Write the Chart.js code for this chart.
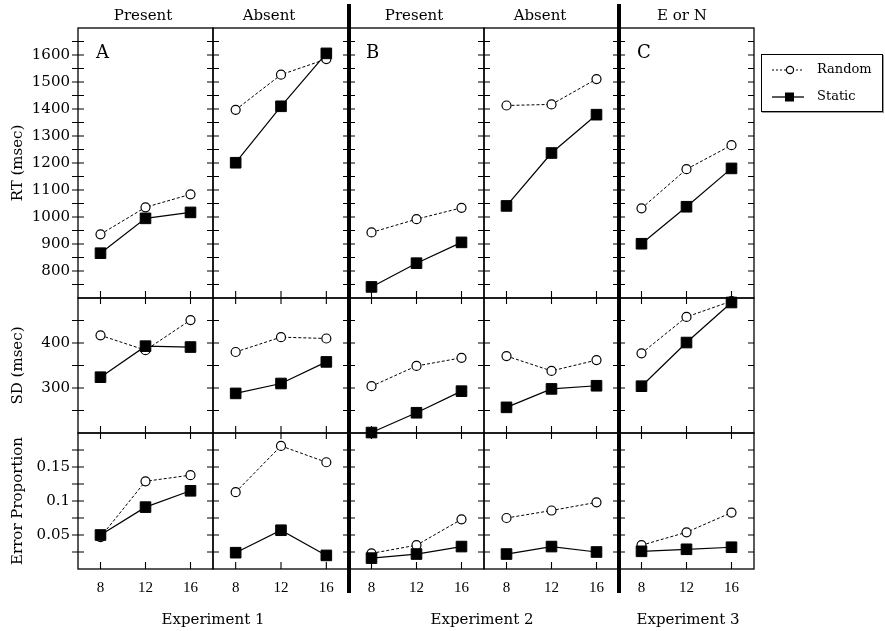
<!DOCTYPE html>
<html>
<head>
<meta charset="utf-8">
<script src="https://cdn.jsdelivr.net/npm/chart.js@4.4.1/dist/chart.umd.min.js"></script>
<style>
  body { margin: 0; background: #fff; }
  #page { position: relative; width: 885px; height: 631px; overflow: hidden; font-family: "DejaVu Serif", serif; color: #000; }
  #page canvas { position: absolute; }
  .txt { position: absolute; font-size: 15px; line-height: 18px; white-space: nowrap; transform: translateX(-50%); }
  .letter { position: absolute; font-size: 18px; line-height: 18px; }
  .thick { position: absolute; width: 3.5px; background: #000; top: 4px; height: 589px; z-index: 5; }
  #legend { position: absolute; left: 761px; top: 54px; width: 120px; height: 56px; border: 1.5px solid #000; box-shadow: 1px 1px 0 #999; font-size: 13px; background: #fff; }
  #legend .row { position: absolute; left: 0; height: 16px; }
  #legend svg { position: absolute; left: 8px; top: 0; }
  #legend span { position: absolute; left: 55px; top: -1px; }
</style>
</head>
<body>
<div id="page"></div>
<script>
// data
const xValues = [8, 12, 16]
const columnTitles = ['Present', 'Absent', 'Present', 'Absent', 'E or N']
const experimentLabels = ['Experiment 1', 'Experiment 2', 'Experiment 3']
const panelLetters = ['A', 'B', 'C']
const rowTitles = ['RT (msec)', 'SD (msec)', 'Error Proportion']
const seriesNames = ['Random', 'Static']

// one array per panel: Exp1 present, Exp1 absent, Exp2 present, Exp2 absent, Exp3
const rtRandom = [[936, 1036, 1084], [1397, 1527, 1585], [943, 992, 1034], [1413, 1417, 1511], [1032, 1177, 1266]]
const rtStatic = [[866, 995, 1017], [1201, 1410, 1606], [741, 829, 906], [1041, 1237, 1379], [901, 1038, 1180]]
const sdRandom = [[417, 384, 451], [380, 413, 410], [304, 349, 367], [371, 338, 362], [377, 458, 493]]
const sdStatic = [[324, 393, 391], [288, 310, 358], [201, 245, 293], [257, 298, 305], [304, 401, 490]]
const errRandom = [[0.047, 0.129, 0.138], [0.113, 0.181, 0.157], [0.023, 0.035, 0.073], [0.075, 0.086, 0.098], [0.035, 0.054, 0.083]]
const errStatic = [[0.05, 0.091, 0.115], [0.024, 0.057, 0.02], [0.016, 0.022, 0.033], [0.022, 0.033, 0.025], [0.026, 0.029, 0.032]]

const rtTickLabels = [800, 900, 1000, 1100, 1200, 1300, 1400, 1500, 1600]
const rtTickMarks = [750, 800, 850, 900, 950, 1000, 1050, 1100, 1150, 1200, 1250, 1300, 1350, 1400, 1450, 1500, 1550, 1600, 1650]
const sdTickLabels = [300, 400]
const sdTickMarks = [250, 300, 350, 400, 450]
const errTickLabels = [0.05, 0.1, 0.15]
const errTickMarks = [0.025, 0.05, 0.075, 0.1, 0.125, 0.15, 0.175]

const rows = [
  { random: rtRandom, stat: rtStatic, min: 700, max: 1700, labels: rtTickLabels, marks: rtTickMarks },
  { random: sdRandom, stat: sdStatic, min: 200, max: 500, labels: sdTickLabels, marks: sdTickMarks },
  { random: errRandom, stat: errStatic, min: 0, max: 0.2, labels: errTickLabels, marks: errTickMarks }
]

// layout (pixels)
const colEdges = [78, 213, 349, 484, 619, 754]
const rowEdges = [28, 298, 433, 569]
const M = 20 // spare room round each panel so markers on the frame are not cut
const AXIS_W = 78
const AXIS_H = 40

const page = document.getElementById('page')

// frame with inward ticks, drawn under the data
const panelFrame = {
  id: 'panelFrame',
  beforeDatasetsDraw (chart, args, opts) {
    const { ctx, chartArea: a } = chart
    const x = chart.scales.x
    const y = chart.scales.y
    ctx.save()
    ctx.strokeStyle = '#000'
    ctx.lineWidth = 1.3
    ctx.strokeRect(a.left, a.top, a.right - a.left, a.bottom - a.top)
    ctx.lineWidth = 1.1
    ctx.beginPath()
    opts.marks.forEach(v => {
      const py = y.getPixelForValue(v)
      ctx.moveTo(a.left - (opts.outer ? 6 : 0), py)
      ctx.lineTo(a.left + 6, py)
      ctx.moveTo(a.right - 6, py)
      ctx.lineTo(a.right, py)
    })
    xValues.forEach(v => {
      const px = x.getPixelForValue(v)
      ctx.moveTo(px, a.bottom)
      ctx.lineTo(px, a.bottom - 7)
      if (opts.topTicks) {
        ctx.moveTo(px, a.top)
        ctx.lineTo(px, a.top + 6)
      }
    })
    ctx.stroke()
    ctx.restore()
  }
}

function toPoints (vals) {
  return vals.map((v, i) => ({ x: xValues[i], y: v }))
}

rows.forEach((row, r) => {
  for (let c = 0; c < 5; c++) {
    const left = c === 0 ? 0 : colEdges[c] - M
    const right = colEdges[c + 1] + M
    const top = rowEdges[r] - M
    const bottom = r === 2 ? rowEdges[3] + AXIS_H : rowEdges[r + 1] + M

    const canvas = document.createElement('canvas')
    canvas.width = right - left
    canvas.height = bottom - top
    canvas.style.left = left + 'px'
    canvas.style.top = top + 'px'
    page.appendChild(canvas)

    new Chart(canvas, {
      type: 'line',
      data: {
        datasets: [
          {
            label: seriesNames[0],
            data: toPoints(row.random[c]),
            borderColor: '#000',
            borderWidth: 1,
            borderDash: [3, 2],
            pointStyle: 'circle',
            pointRadius: 4.5,
            pointBorderWidth: 1.2,
            pointBackgroundColor: '#fff',
            pointBorderColor: '#000',
            clip: false,
            order: 2
          },
          {
            label: seriesNames[1],
            data: toPoints(row.stat[c]),
            borderColor: '#000',
            borderWidth: 1.2,
            pointStyle: 'rect',
            pointRadius: 7.5,
            pointBorderWidth: 1,
            pointBackgroundColor: '#000',
            pointBorderColor: '#000',
            clip: false,
            order: 1
          }
        ]
      },
      options: {
        responsive: false,
        animation: false,
        events: [],
        layout: {
          padding: { left: c === 0 ? 0 : M, right: M, top: M, bottom: r === 2 ? 0 : M }
        },
        scales: {
          x: {
            type: 'linear',
            min: 6,
            max: 18,
            display: r === 2,
            grid: { display: false, drawTicks: false },
            border: { display: false },
            afterBuildTicks: s => { s.ticks = xValues.map(v => ({ value: v })) },
            afterFit: s => { if (r === 2) s.height = AXIS_H },
            ticks: {
              padding: 10,
              color: '#000',
              maxRotation: 0,
              font: { family: 'Liberation Serif', size: 15 },
              callback: v => String(v)
            }
          },
          y: {
            type: 'linear',
            min: row.min,
            max: row.max,
            display: c === 0,
            grid: { display: false, drawTicks: false },
            border: { display: false },
            afterBuildTicks: s => { s.ticks = row.labels.map(v => ({ value: v })) },
            afterFit: s => { if (c === 0) s.width = AXIS_W },
            ticks: {
              padding: 8,
              color: '#000',
              font: { family: 'DejaVu Serif', size: 15 },
              callback: v => String(v)
            },
            title: {
              display: true,
              text: rowTitles[r],
              color: '#000',
              font: { family: 'DejaVu Serif', size: 15 },
              padding: { top: 9, bottom: 0 }
            }
          }
        },
        plugins: {
          legend: { display: false },
          tooltip: { enabled: false },
          panelFrame: { marks: row.marks, outer: c === 0, topTicks: r > 0 }
        }
      },
      plugins: [panelFrame]
    })
  }
})

// text round the panels
function addText (cls, text, x, y) {
  const d = document.createElement('div')
  d.className = cls
  d.textContent = text
  d.style.left = x + 'px'
  d.style.top = y + 'px'
  page.appendChild(d)
}
const headerCenters = [143, 269, 414, 540, 682]
columnTitles.forEach((t, i) => addText('txt', t, headerCenters[i], 6))
const expCenters = [213, 482, 688]
experimentLabels.forEach((t, i) => addText('txt', t, expCenters[i], 610))
const letterX = [96, 366, 637]
panelLetters.forEach((t, i) => addText('letter', t, letterX[i], 43))

// heavy separators between experiments
;[349, 619].forEach(x => {
  const d = document.createElement('div')
  d.className = 'thick'
  d.style.left = (x - 1.75) + 'px'
  page.appendChild(d)
})

// legend
const legend = document.createElement('div')
legend.id = 'legend'
legend.innerHTML =
  '<div class="row" style="top:7px"><svg width="40" height="16"><line x1="2" y1="8" x2="34" y2="8" stroke="#000" stroke-width="1" stroke-dasharray="2,2"/><circle cx="20" cy="8" r="3.6" fill="#fff" stroke="#000" stroke-width="1.2"/></svg><span>' + seriesNames[0] + '</span></div>' +
  '<div class="row" style="top:34px"><svg width="40" height="16"><line x1="2" y1="8" x2="34" y2="8" stroke="#000" stroke-width="1.3"/><rect x="15" y="3.5" width="9" height="9" fill="#000"/></svg><span>' + seriesNames[1] + '</span></div>'
page.appendChild(legend)
</script>
</body>
</html>
